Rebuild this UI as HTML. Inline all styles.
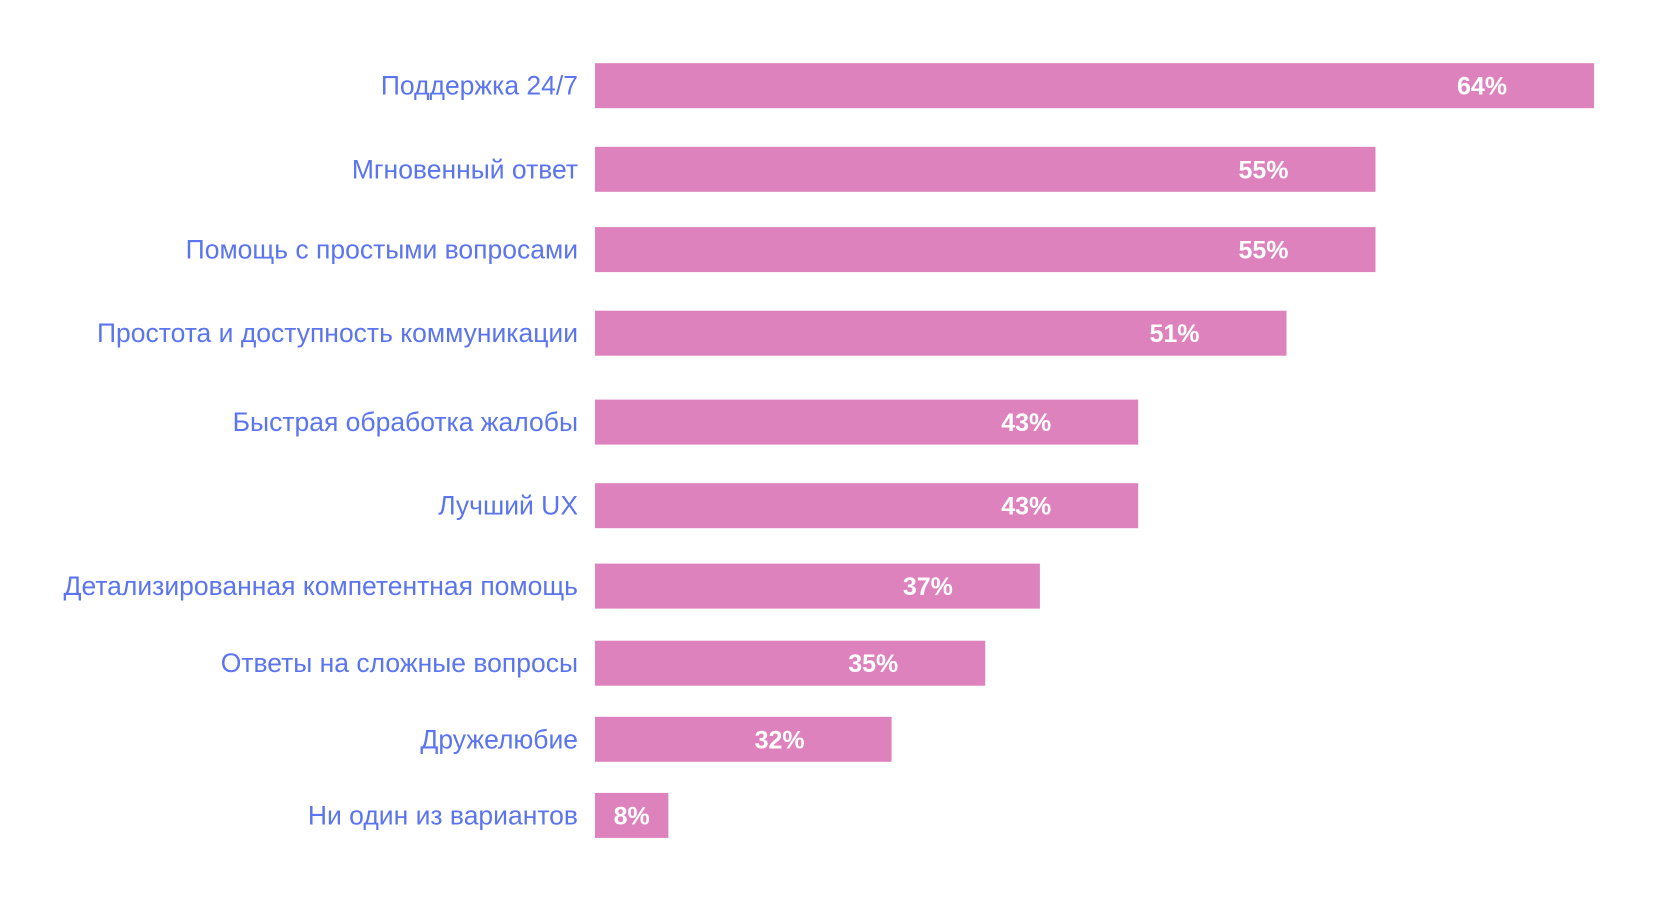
<!DOCTYPE html>
<html><head><meta charset="utf-8">
<style>
html,body{margin:0;padding:0;background:#fff;width:1680px;height:915px;overflow:hidden}
svg text{font-family:"Liberation Sans","DejaVu Sans",sans-serif}
</style></head>
<body>
<svg id="chart" width="1680" height="915" viewBox="0 0 1680 915"></svg>
<script>
const categories = ["Поддержка 24/7","Мгновенный ответ","Помощь с простыми вопросами","Простота и доступность коммуникации","Быстрая обработка жалобы","Лучший UX","Детализированная компетентная помощь","Ответы на сложные вопросы","Дружелюбие","Ни один из вариантов"];
const barValues = [64,50,50,44.3,34.8,34.8,28.5,25,19,4.7];
const valueLabels = ["64%","55%","55%","51%","43%","43%","37%","35%","32%","8%"];
const rowCenters = [85.7,169.3,249.6,333.2,422.1,505.7,586.1,663.2,739.3,815.4];

const NS="http://www.w3.org/2000/svg";
const svg=document.getElementById('chart');
const x0=595, pxPerUnit=15.61, barH=45;
function xScale(v){return x0+v*pxPerUnit;}
categories.forEach((c,i)=>{
  const cy=rowCenters[i];
  const xe=xScale(barValues[i]);
  const r=document.createElementNS(NS,'rect');
  r.setAttribute('x',x0);r.setAttribute('y',cy-barH/2);
  r.setAttribute('width',xe-x0);r.setAttribute('height',barH);
  r.setAttribute('fill','#dd82bc');
  
  
  svg.appendChild(r);
  const t=document.createElementNS(NS,'text');
  t.setAttribute('x',578);t.setAttribute('y',cy+9);
  t.setAttribute('text-anchor','end');t.setAttribute('font-size','26.5');
  t.setAttribute('fill','#5b74ef');
  t.textContent=c;
  
  
  svg.appendChild(t);
  const v=document.createElementNS(NS,'text');
  const cx=Math.max((x0+xe)/2, xe-112);
  v.setAttribute('x',cx);v.setAttribute('y',cy+9);
  v.setAttribute('text-anchor','middle');v.setAttribute('font-size','25');
  v.setAttribute('font-weight','bold');v.setAttribute('fill','#ffffff');
  v.textContent=valueLabels[i];
  
  
  svg.appendChild(v);
});
</script>
</body></html>
